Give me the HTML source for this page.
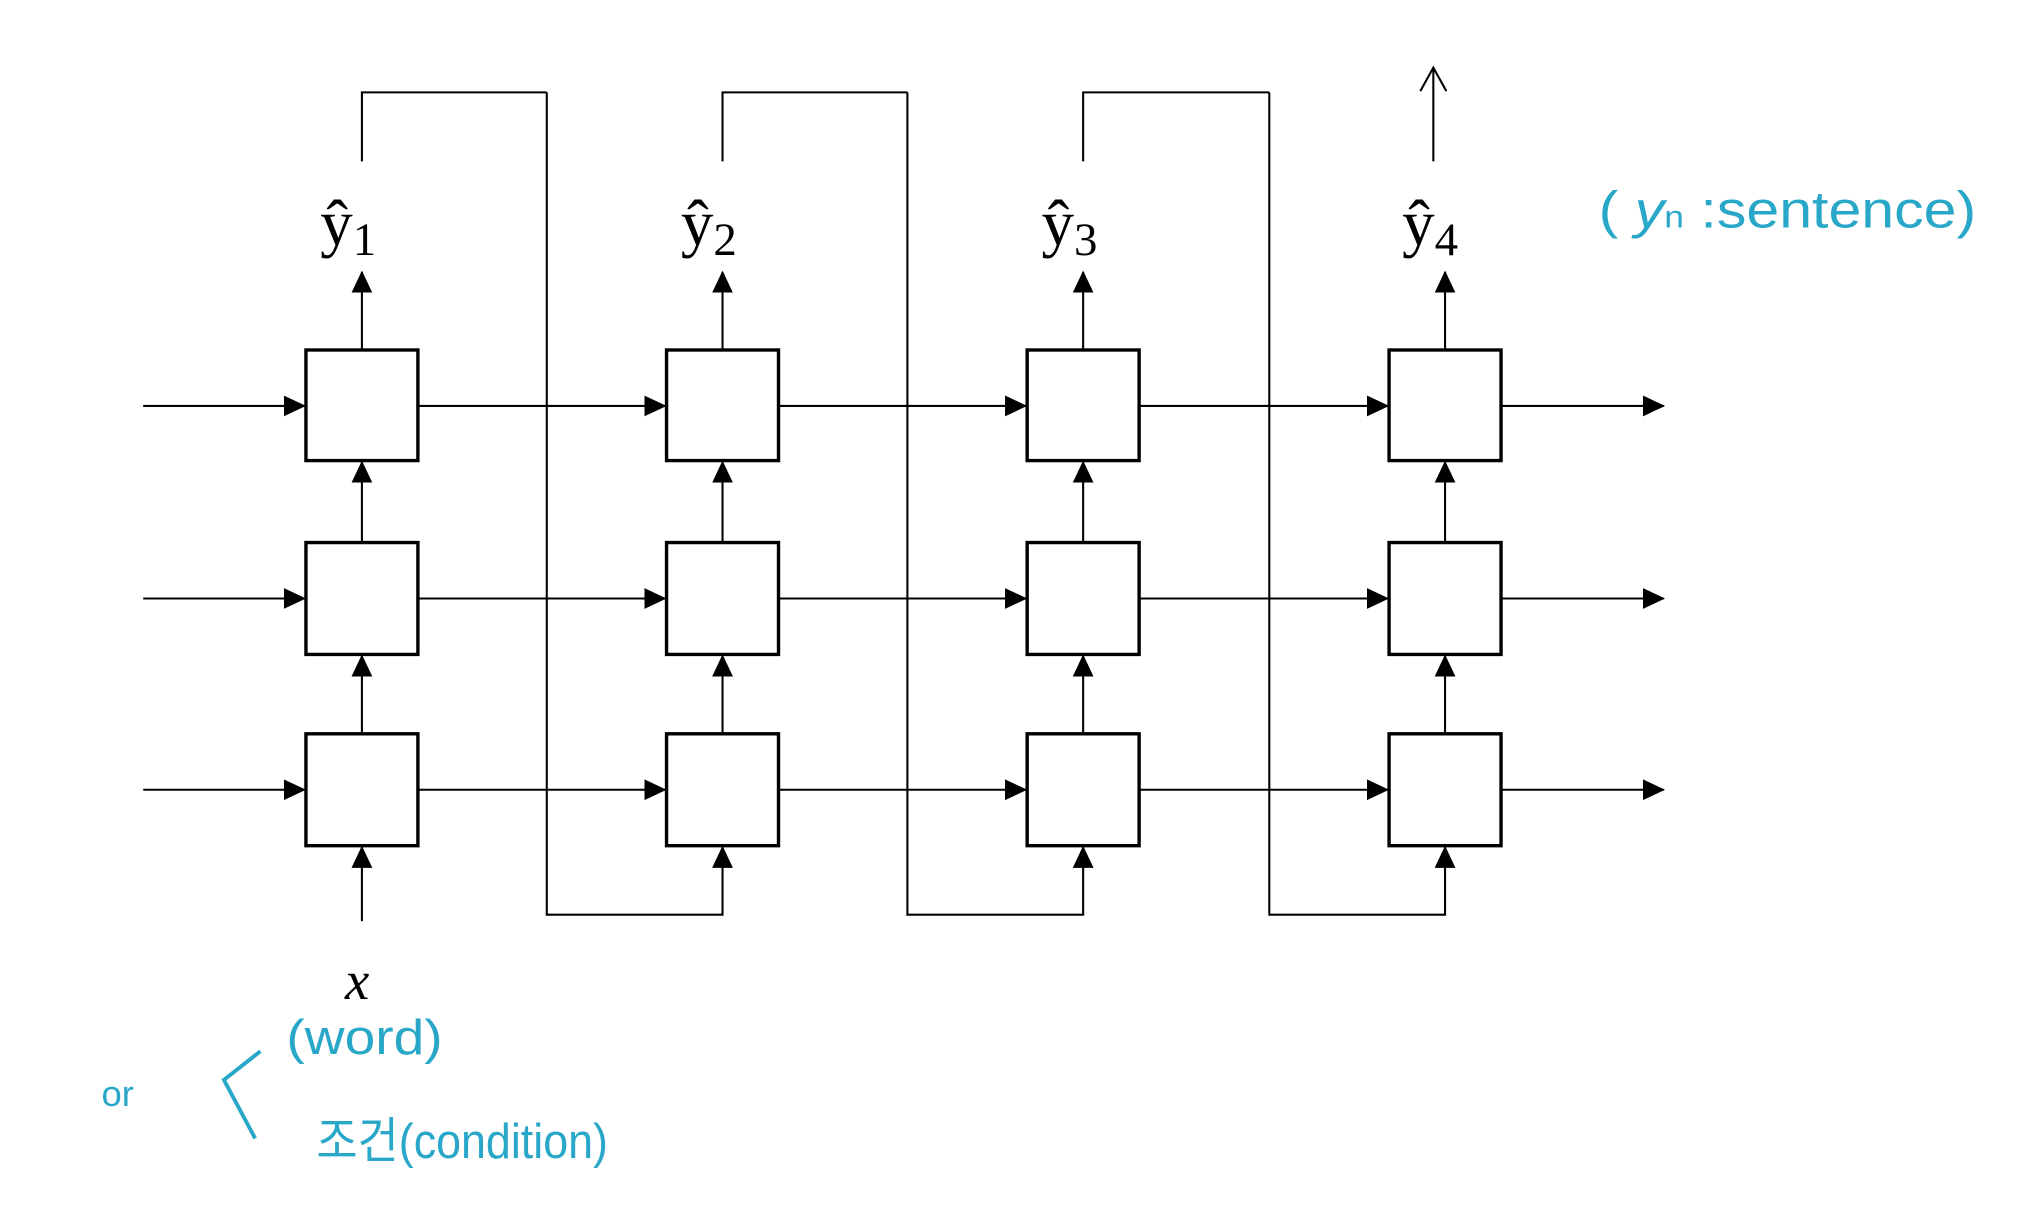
<!DOCTYPE html>
<html><head><style>html,body{margin:0;padding:0;background:#fff}svg{display:block}</style></head>
<body>
<svg width="2040" height="1210" viewBox="0 0 1567 930" preserveAspectRatio="none" xmlns="http://www.w3.org/2000/svg">
<defs>
<marker id="a" markerWidth="17" markerHeight="16" refX="16" refY="8" orient="auto" markerUnits="userSpaceOnUse" viewBox="0 0 17 16">
<path d="M0,0 L17,8 L0,16 z" fill="#000"/></marker>
</defs>
<g stroke="#000" stroke-width="1.6" fill="none">
<g marker-end="url(#a)">
<line x1="110" y1="312" x2="234" y2="312"/><line x1="321" y1="312" x2="511" y2="312"/><line x1="598" y1="312" x2="788" y2="312"/><line x1="875" y1="312" x2="1066" y2="312"/><line x1="1153" y1="312" x2="1278" y2="312"/>
<line x1="110" y1="460" x2="234" y2="460"/><line x1="321" y1="460" x2="511" y2="460"/><line x1="598" y1="460" x2="788" y2="460"/><line x1="875" y1="460" x2="1066" y2="460"/><line x1="1153" y1="460" x2="1278" y2="460"/>
<line x1="110" y1="607" x2="234" y2="607"/><line x1="321" y1="607" x2="511" y2="607"/><line x1="598" y1="607" x2="788" y2="607"/><line x1="875" y1="607" x2="1066" y2="607"/><line x1="1153" y1="607" x2="1278" y2="607"/>
<line x1="278" y1="269" x2="278" y2="209"/><line x1="555" y1="269" x2="555" y2="209"/><line x1="832" y1="269" x2="832" y2="209"/><line x1="1110" y1="269" x2="1110" y2="209"/>
<line x1="278" y1="417" x2="278" y2="355"/><line x1="555" y1="417" x2="555" y2="355"/><line x1="832" y1="417" x2="832" y2="355"/><line x1="1110" y1="417" x2="1110" y2="355"/>
<line x1="278" y1="564" x2="278" y2="504"/><line x1="555" y1="564" x2="555" y2="504"/><line x1="832" y1="564" x2="832" y2="504"/><line x1="1110" y1="564" x2="1110" y2="504"/>
<line x1="278" y1="708" x2="278" y2="651"/>
<polyline points="420,71 420,703 555,703 555,651"/>
<polyline points="697,71 697,703 832,703 832,651"/>
<polyline points="975,71 975,703 1110,703 1110,651"/>
</g>
<polyline points="278,124 278,71 420,71"/>
<polyline points="555,124 555,71 697,71"/>
<polyline points="832,124 832,71 975,71"/>
<line x1="1101" y1="124" x2="1101" y2="52"/>
<polyline points="1091,70 1101,52 1111,70"/>
<g stroke-width="2.6">
<rect x="235" y="269" width="86" height="85"/><rect x="512" y="269" width="86" height="85"/><rect x="789" y="269" width="86" height="85"/><rect x="1067" y="269" width="86" height="85"/>
<rect x="235" y="417" width="86" height="86"/><rect x="512" y="417" width="86" height="86"/><rect x="789" y="417" width="86" height="86"/><rect x="1067" y="417" width="86" height="86"/>
<rect x="235" y="564" width="86" height="86"/><rect x="512" y="564" width="86" height="86"/><rect x="789" y="564" width="86" height="86"/><rect x="1067" y="564" width="86" height="86"/>
</g>
</g>
<g font-family="Liberation Serif, serif" fill="#000" font-size="50">
<text x="246" y="188">ŷ<tspan font-size="36" dy="8">1</tspan></text>
<text x="523" y="188">ŷ<tspan font-size="36" dy="8">2</tspan></text>
<text x="800" y="188">ŷ<tspan font-size="36" dy="8">3</tspan></text>
<text x="1077" y="188">ŷ<tspan font-size="36" dy="8">4</tspan></text>
<text x="265" y="768" font-style="italic" font-size="42">x</text>
</g>
<g font-family="Liberation Sans, 'Noto Sans CJK KR', sans-serif" fill="#29a7c9">
<text x="1228" y="175" font-size="40" textLength="290" lengthAdjust="spacingAndGlyphs">( <tspan font-style="italic">y</tspan><tspan font-size="24">n</tspan> :sentence)</text>
<text x="220" y="810" font-size="38" textLength="120" lengthAdjust="spacingAndGlyphs">(word)</text>
<text x="78" y="850" font-size="28">or</text>
<text x="243" y="890" font-size="38" textLength="224" lengthAdjust="spacingAndGlyphs">조건(condition)</text>
</g>
<polyline points="200,808 172,830 196,875" stroke="#29a7c9" stroke-width="3" fill="none"/>
</svg>
</body></html>
